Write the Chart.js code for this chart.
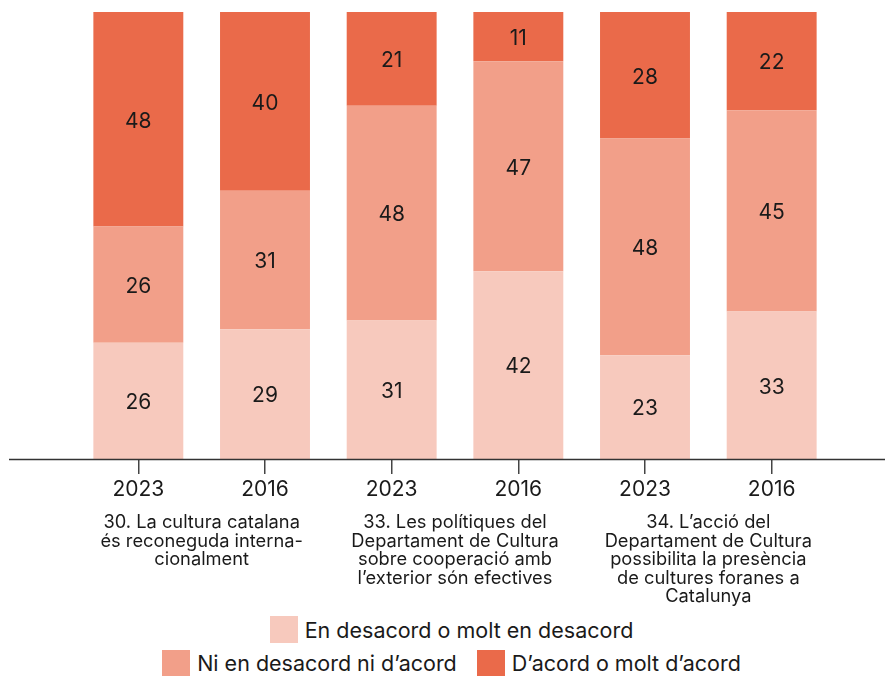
<!DOCTYPE html>
<html>
<head>
<meta charset="utf-8">
<script src="https://cdn.jsdelivr.net/npm/chart.js@4/dist/chart.umd.min.js"></script>
<style>
  body { margin: 0; background: #fff; font-family: Inter, "Noto Sans", sans-serif; }
  #wrap { position: relative; width: 885px; height: 615px; }
  #legend { width: 885px; height: 61px; padding-left: 18px; box-sizing: border-box; color: #1a1a1a; font-size: 21.5px; }
  .row { display: flex; justify-content: center; align-items: center; height: 29px; }
  .row + .row { height: 38px; }
  .item { display: flex; align-items: center; margin: 0 10px; }
  .sw { width: 28px; height: 27px; margin-right: 7px; }
</style>
</head>
<body>
<div id="wrap"><canvas id="chart" width="885" height="615"></canvas></div>
<div id="legend"></div>
<script>
// Data
const years = ['2023', '2016', '2023', '2016', '2023', '2016'];
const desacord = [26, 29, 31, 42, 23, 33];
const niNi = [26, 31, 48, 47, 48, 45];
const acord = [48, 40, 21, 11, 28, 22];
const seriesNames = ['En desacord o molt en desacord', 'Ni en desacord ni d\u2019acord', 'D\u2019acord o molt d\u2019acord'];
const groupLabels = [
    ['30. La cultura catalana', '\u00e9s reconeguda interna-', 'cionalment'],
    ['33. Les pol\u00edtiques del', 'Departament de Cultura', 'sobre cooperaci\u00f3 amb', 'l\u2019exterior s\u00f3n efectives'],
    ['34. L\u2019acci\u00f3 del', 'Departament de Cultura', 'possibilita la pres\u00e8ncia', 'de cultures foranes a', 'Catalunya']
];

const colors = ['#F7C9BD', '#F29F89', '#EA6A4A'];
const raw = [desacord, niNi, acord];

// each bar is filled to 100 (rounded labels don't always add up)
const totals = years.map((_, i) => desacord[i] + niNi[i] + acord[i]);
const datasets = raw.map((vals, k) => ({
    label: seriesNames[k],
    data: vals.map((v, i) => v / totals[i] * 100),
    rawValues: vals,
    backgroundColor: colors[k],
    borderWidth: 0,
    categoryPercentage: 1,
    barPercentage: 0.71
}));

// numbers inside bars, axis line, question labels under each pair
const extras = {
    id: 'extras',
    afterDatasetsDraw(chart) {
        const ctx = chart.ctx;
        ctx.save();
        ctx.font = '21px Inter';
        ctx.fillStyle = '#1a1a1a';
        ctx.textAlign = 'center';
        ctx.textBaseline = 'middle';
        chart.data.datasets.forEach((ds, k) => {
            chart.getDatasetMeta(k).data.forEach((bar, i) => {
                ctx.fillText(String(ds.rawValues[i]), bar.x, (bar.y + bar.base) / 2 + 2);
            });
        });
        ctx.restore();
    },
    afterDraw(chart) {
        const ctx = chart.ctx;
        const xs = chart.scales.x;
        const y0 = chart.chartArea.bottom;
        ctx.save();
        ctx.strokeStyle = '#333';
        ctx.lineWidth = 1.3;
        ctx.beginPath();
        ctx.moveTo(9, y0 + 0.5);
        ctx.lineTo(chart.width, y0 + 0.5);
        ctx.stroke();

        ctx.font = '18.3px Inter';
        ctx.fillStyle = '#1a1a1a';
        ctx.textAlign = 'center';
        ctx.textBaseline = 'middle';
        groupLabels.forEach((lines, g) => {
            const cx = (xs.getPixelForValue(g * 2) + xs.getPixelForValue(g * 2 + 1)) / 2;
            lines.forEach((line, j) => {
                ctx.fillText(line, cx, y0 + 64 + j * 18.4);
            });
        });
        ctx.restore();
    }
};

new Chart(document.getElementById('chart'), {
    type: 'bar',
    data: { labels: years, datasets: datasets },
    options: {
        responsive: false,
        animation: false,
        layout: { padding: { left: 75, right: 50, top: 12, bottom: 0 } },
        plugins: {
            legend: { display: false },
            tooltip: { enabled: false }
        },
        scales: {
            x: {
                stacked: true,
                border: { display: false },
                grid: {
                    offset: false,
                    drawOnChartArea: false,
                    drawTicks: true,
                    tickLength: 15,
                    color: '#444',
                    lineWidth: 1.5
                },
                ticks: {
                    font: { family: 'Inter', size: 21 },
                    color: '#1a1a1a',
                    padding: 3,
                    maxRotation: 0
                },
                afterFit: (scale) => { scale.height = 156; }
            },
            y: {
                stacked: true,
                display: false,
                min: 0,
                max: 100
            }
        }
    },
    plugins: [extras]
});

// legend laid out as two centered rows like the original
const legend = document.getElementById('legend');
[[0], [1, 2]].forEach(rowIdx => {
    const row = document.createElement('div');
    row.className = 'row';
    rowIdx.forEach(k => {
        const item = document.createElement('div');
        item.className = 'item';
        const sw = document.createElement('span');
        sw.className = 'sw';
        sw.style.background = colors[k];
        const txt = document.createElement('span');
        txt.textContent = seriesNames[k];
        item.appendChild(sw);
        item.appendChild(txt);
        row.appendChild(item);
    });
    legend.appendChild(row);
});
</script>
</body>
</html>
